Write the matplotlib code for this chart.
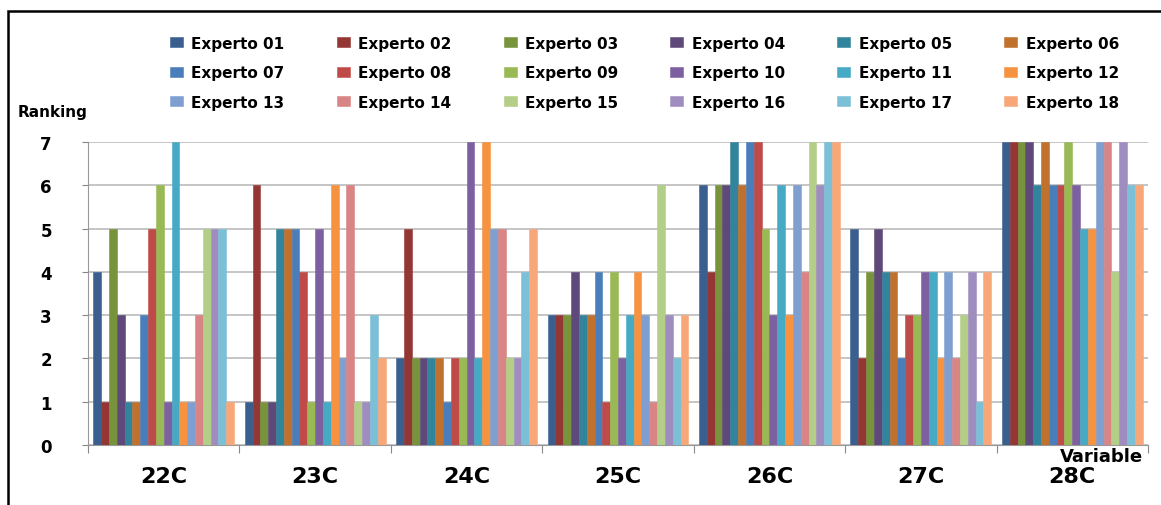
import matplotlib
matplotlib.use("Agg")
import matplotlib.pyplot as plt
import numpy as np
from matplotlib.patches import Rectangle

# data
categories = ["22C", "23C", "24C", "25C", "26C", "27C", "28C"]
expertos = ["Experto %02d" % i for i in range(1, 19)]

v22 = [4, 1, 5, 3, 1, 1, 3, 5, 6, 1, 7, 1, 1, 3, 5, 5, 5, 1]
v23 = [1, 6, 1, 1, 5, 5, 5, 4, 1, 5, 1, 6, 2, 6, 1, 1, 3, 2]
v24 = [2, 5, 2, 2, 2, 2, 1, 2, 2, 7, 2, 7, 5, 5, 2, 2, 4, 5]
v25 = [3, 3, 3, 4, 3, 3, 4, 1, 4, 2, 3, 4, 3, 1, 6, 3, 2, 3]
v26 = [6, 4, 6, 6, 7, 6, 7, 7, 5, 3, 6, 3, 6, 4, 7, 6, 7, 7]
v27 = [5, 2, 4, 5, 4, 4, 2, 3, 3, 4, 4, 2, 4, 2, 3, 4, 1, 4]
v28 = [7, 7, 7, 7, 6, 7, 6, 6, 7, 6, 5, 5, 7, 7, 4, 7, 6, 6]

colors = ["#3A5F8F", "#943634", "#77933C", "#5F497A", "#31849B", "#C0712E",
          "#4A7EBB", "#BE4B48", "#98B954", "#7D60A0", "#46AAC5", "#F69240",
          "#7E9FD0", "#D98485", "#B3CE86", "#A08DC0", "#7CC0D8", "#F8A878"]

data = np.array([v22, v23, v24, v25, v26, v27, v28])  # groups x experts

fig = plt.figure(figsize=(11.61, 5.06), dpi=100)
ax = fig.add_axes([88/1161, 1-446/506, (1148-88)/1161, (446-143)/506])

nser = len(expertos)
span = 0.93
w = span / nser
centers = np.arange(len(categories)) + 0.5
handles = []
for j in range(nser):
    xs = centers - span/2 + w*(j + 0.5)
    b = ax.bar(xs, data[:, j], width=w, color=colors[j], edgecolor=colors[j],
               linewidth=0.4, zorder=3, label=expertos[j])
    handles.append(b)

ax.set_xlim(0, len(categories))
ax.set_ylim(0, 7)
ax.set_yticks(range(0, 8))
ax.set_yticklabels([str(i) for i in range(8)], fontsize=12, fontweight="bold")
ax.set_xticks(range(0, len(categories)+1))
ax.set_xticklabels([])
ax.set_xticks(centers, minor=True)
ax.set_xticklabels(categories, minor=True, fontsize=16, fontweight="bold")
ax.tick_params(axis="x", which="minor", length=0, pad=15)
ax.tick_params(axis="x", which="major", length=6, color="#888888", direction="out")
ax.tick_params(axis="y", length=4, color="#888888", pad=22)
ax.grid(axis="y", color="#BBBBBB", linewidth=1.2, zorder=0)
for s in ["top", "right"]:
    ax.spines[s].set_visible(False)
ax.spines["left"].set_color("#999999")
ax.spines["bottom"].set_color("#999999")

# legend in rows: reorder for column-major fill
order = [r*6 + c for c in range(6) for r in range(3)]
fig.legend([handles[k] for k in order], [expertos[k] for k in order],
           ncol=6, loc="upper left", bbox_to_anchor=(162/1161, 1-29/506),
           frameon=False, prop={"weight": "bold", "size": 11},
           handlelength=0.85, handleheight=0.6, handletextpad=0.55,
           columnspacing=3.42, labelspacing=0.95, borderpad=0)

fig.text(18/1161, 1-113/506, "Ranking", fontsize=11, fontweight="bold", va="center")
fig.text(1060/1161, 1-457/506, "Variable", fontsize=13, fontweight="bold", va="center")

# outer frame running off the right and bottom edges
fig.patches.append(Rectangle((8/1161, -0.2), 1.2, 1.2 - 12/506, transform=fig.transFigure,
                             fill=False, edgecolor="black", linewidth=1.8))

fig.savefig("out.png", dpi=100)
